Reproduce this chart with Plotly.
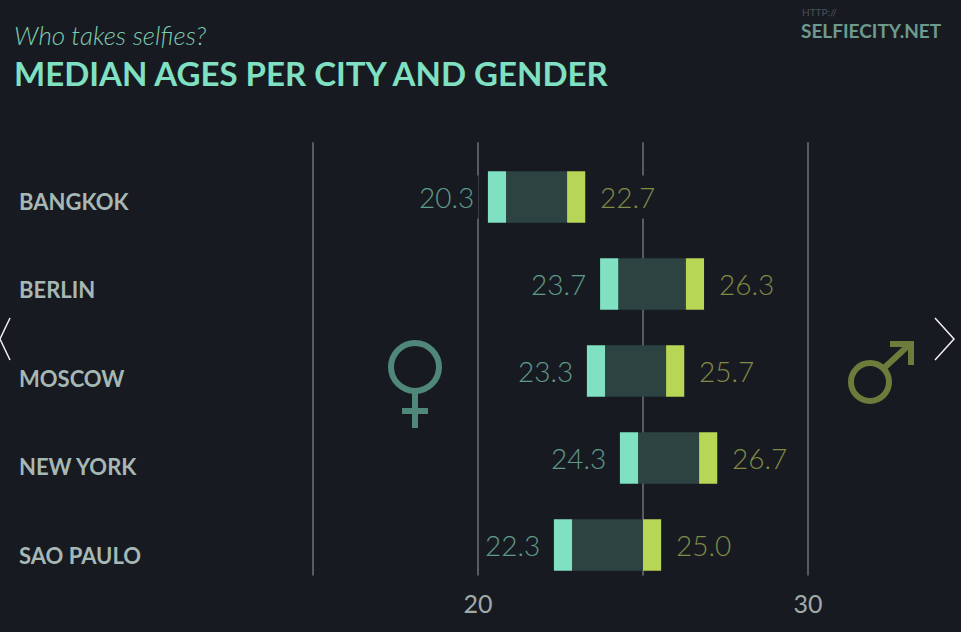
import plotly.graph_objects as go

# median ages
cities = ["BANGKOK", "BERLIN", "MOSCOW", "NEW YORK", "SAO PAULO"]
female_age = [20.3, 23.7, 23.3, 24.3, 22.3]
male_age = [22.7, 26.3, 25.7, 26.7, 25.0]
grid_ages = [15, 20, 25, 30]
tick_ages = [20, 30]

BG = "#181a22"
MINT = "#7fe0c2"
LIME = "#b8d656"
BOX = "#2d4341"
FEM = "#4f8878"
MAL = "#6c7c3a"

W, H, B = 961, 632, 45
CAP = 0.55  # width of the coloured end marks, in years
rows = list(range(len(cities)))


def px(x):
    return x / W


def py(y):
    return (H - B - y) / (H - B)


fig = go.Figure()
# dark body between the two medians
fig.add_trace(go.Bar(y=rows, base=[f + CAP for f in female_age],
                     x=[m - f - CAP for f, m in zip(female_age, male_age)],
                     orientation="h", width=0.59, marker_color=BOX,
                     marker_line_width=0, hoverinfo="skip"))
fig.add_trace(go.Bar(y=rows, base=female_age, x=[CAP] * len(rows),
                     orientation="h", width=0.59, marker_color=MINT,
                     marker_line_width=0, name="female"))
fig.add_trace(go.Bar(y=rows, base=male_age, x=[CAP] * len(rows),
                     orientation="h", width=0.59, marker_color=LIME,
                     marker_line_width=0, name="male"))

shapes = []
for g in grid_ages:
    shapes.append(dict(type="line", xref="x", yref="y", x0=g, x1=g,
                       y0=-0.63, y1=4.35, layer="below",
                       line=dict(color="#585c62", width=2)))

# female sign
shapes.append(dict(type="circle", xref="paper", yref="paper",
                   x0=px(391), x1=px(439), y0=py(343), y1=py(391),
                   line=dict(color=FEM, width=6)))
shapes.append(dict(type="line", xref="paper", yref="paper",
                   x0=px(415), x1=px(415), y0=py(391), y1=py(428),
                   line=dict(color=FEM, width=6)))
shapes.append(dict(type="line", xref="paper", yref="paper",
                   x0=px(402), x1=px(428), y0=py(411), y1=py(411),
                   line=dict(color=FEM, width=6)))
# male sign
shapes.append(dict(type="circle", xref="paper", yref="paper",
                   x0=px(851), x1=px(889), y0=py(363), y1=py(401),
                   line=dict(color=MAL, width=6)))
shapes.append(dict(type="line", xref="paper", yref="paper",
                   x0=px(883), x1=px(910), y0=py(369), y1=py(344),
                   line=dict(color=MAL, width=6)))
shapes.append(dict(type="path", xref="paper", yref="paper",
                   path="M %f,%f L %f,%f L %f,%f" % (px(890), py(344), px(911), py(344), px(911), py(365)),
                   line=dict(color=MAL, width=6)))
# navigation arrows
shapes.append(dict(type="path", xref="paper", yref="paper",
                   path="M %f,%f L %f,%f L %f,%f" % (px(10), py(318), px(0), py(339), px(10), py(360)),
                   line=dict(color="#f0f0f0", width=1.5)))
shapes.append(dict(type="path", xref="paper", yref="paper",
                   path="M %f,%f L %f,%f L %f,%f" % (px(935), py(318), px(954), py(339), px(935), py(360)),
                   line=dict(color="#f0f0f0", width=1.5)))

ann = []
for i, c in enumerate(cities):
    ann.append(dict(x=px(17), xref="paper", y=i, yref="y", yshift=-4 - i * 1.5, text=c,
                    showarrow=False, xanchor="left", yanchor="middle",
                    font=dict(family="Lato", size=22, weight=700, color="#a6b8b3")))
    ann.append(dict(x=female_age[i], y=i, text="%.1f" % female_age[i], showarrow=False,
                    xanchor="right", yanchor="middle", xshift=-9, bgcolor=BG, borderpad=4,
                    font=dict(family="Lato", size=28, weight=300, color="#5f9a8a")))
    ann.append(dict(x=male_age[i] + CAP, y=i, text="%.1f" % male_age[i], showarrow=False,
                    xanchor="left", yanchor="middle", xshift=10, bgcolor=BG, borderpad=4,
                    font=dict(family="Lato", size=28, weight=300, color="#7f8c45")))

ann.append(dict(x=px(12), y=py(35), xref="paper", yref="paper", text="<i>Who takes selfies?</i>",
                showarrow=False, xanchor="left", yanchor="middle",
                font=dict(family="Lato", size=26, weight=300, color="#7ccaae")))
ann.append(dict(x=px(12), y=py(73), xref="paper", yref="paper", text="MEDIAN AGES PER CITY AND GENDER",
                showarrow=False, xanchor="left", yanchor="middle",
                font=dict(family="Lato", size=33, weight=700, color=MINT)))
ann.append(dict(x=px(800), y=py(12), xref="paper", yref="paper", text="HTTP://",
                showarrow=False, xanchor="left", yanchor="middle",
                font=dict(family="Lato", size=10, color="#4b535a")))
ann.append(dict(x=px(799), y=py(30), xref="paper", yref="paper", text="SELFIECITY.NET",
                showarrow=False, xanchor="left", yanchor="middle",
                font=dict(family="Lato", size=19, weight=700, color="#6d9a8e")))

fig.update_layout(
    width=W, height=H,
    paper_bgcolor=BG, plot_bgcolor=BG,
    margin=dict(l=0, r=0, t=0, b=B),
    barmode="overlay", showlegend=False,
    shapes=shapes, annotations=ann,
    xaxis=dict(range=[20 - 478 / 33, 20 + (W - 478) / 33], tickvals=tick_ages,
               showgrid=False, zeroline=False, showline=False, ticks="",
               tickfont=dict(family="Lato", size=25, color="#a0aaa8")),
    yaxis=dict(range=[(H - B - 197) / 87, -197 / 87], showgrid=False, zeroline=False,
               showticklabels=False),
)

fig.write_html("out.html", config={"displayModeBar": False},
               post_script="document.body.style.margin='0';")
